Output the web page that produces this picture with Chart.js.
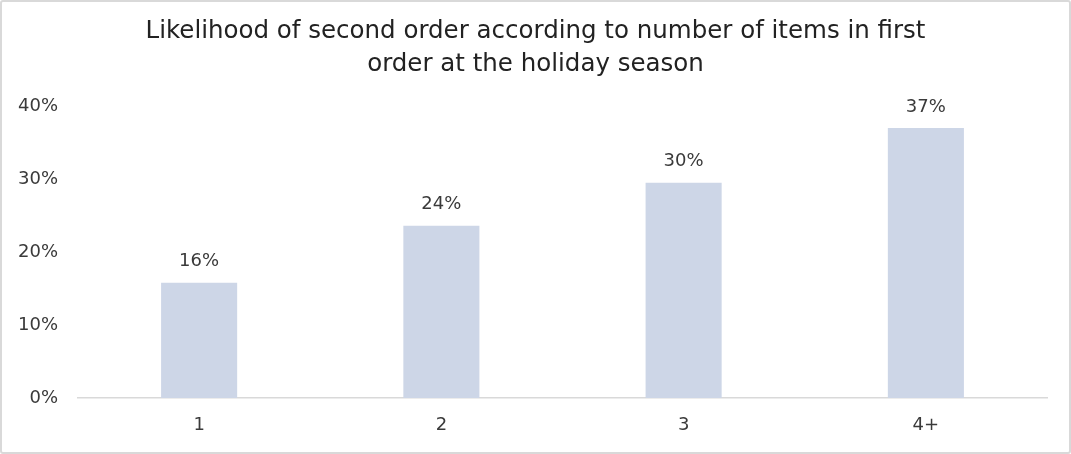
<!DOCTYPE html>
<html>
<head>
<meta charset="utf-8">
<script src="https://cdn.jsdelivr.net/npm/chart.js@4"></script>
<style>
    html, body { margin: 0; padding: 0; background: #fff; }
    #wrap {
        position: absolute; left: 0; top: 0;
        width: 1071px; height: 454px;
        box-sizing: border-box;
        border: 2px solid #d9d9d9;
        border-radius: 3px;
        background: #fff;
    }
    #wrap canvas { display: block; }
</style>
</head>
<body>
<div id="wrap"><canvas id="orderChart" width="1067" height="450"></canvas></div>
<script>
const categories = ['1', '2', '3', '4+'];
const likelihood = [15.8, 23.6, 29.5, 37.0];
const yTicks = [0, 10, 20, 30, 40];
const titleLines = ['Likelihood of second order according to number of items in first', 'order at the holiday season'];

const FONT = "'DejaVu Sans', 'Noto Sans', sans-serif";

// draws the % value above each bar
const valueLabels = {
    id: 'valueLabels',
    afterDatasetsDraw(chart) {
        const ctx = chart.ctx;
        const meta = chart.getDatasetMeta(0);
        ctx.save();
        ctx.font = '18px ' + FONT;
        ctx.fillStyle = '#3a3a3a';
        ctx.textAlign = 'center';
        ctx.textBaseline = 'middle';
        meta.data.forEach((bar, i) => {
            ctx.fillText(Math.round(likelihood[i]) + '%', bar.x, bar.y - 21);
        });
        ctx.restore();
    }
};

// title centred on the whole canvas, not on the padded box
const centredTitle = {
    id: 'centredTitle',
    afterDraw(chart) {
        const ctx = chart.ctx;
        ctx.save();
        ctx.font = '24.5px ' + FONT;
        ctx.fillStyle = '#222222';
        ctx.textAlign = 'center';
        ctx.textBaseline = 'middle';
        titleLines.forEach((line, i) => {
            ctx.fillText(line, chart.width / 2, 30 + i * 33);
        });
        ctx.restore();
    }
};

document.addEventListener('DOMContentLoaded', function () {
    const ctx = document.getElementById('orderChart').getContext('2d');

    new Chart(ctx, {
        type: 'bar',
        data: {
            labels: categories,
            datasets: [{
                data: likelihood,
                backgroundColor: '#cdd6e7',
                borderWidth: 0,
                categoryPercentage: 1,
                barPercentage: 0.314
            }]
        },
        options: {
            responsive: false,
            animation: false,
            layout: { padding: { top: 104, right: 22, bottom: 0, left: 0 } },
            scales: {
                y: {
                    min: 0,
                    max: 40,
                    afterFit: function (scale) { scale.width = 76; },
                    afterBuildTicks: function (scale) {
                        scale.ticks = yTicks.map(v => ({ value: v }));
                    },
                    grid: { display: false, drawTicks: false },
                    border: { display: false },
                    ticks: {
                        padding: 20,
                        color: '#3a3a3a',
                        font: { family: FONT, size: 18 },
                        callback: v => v + '%'
                    }
                },
                x: {
                    afterFit: function (scale) { scale.height = 54; },
                    grid: { display: false, drawTicks: false },
                    border: { color: '#d9d9d9', width: 1.5 },
                    ticks: {
                        padding: 17,
                        color: '#3a3a3a',
                        font: { family: FONT, size: 18 }
                    }
                }
            },
            plugins: {
                legend: { display: false },
                tooltip: { enabled: false },
                title: { display: false }
            }
        },
        plugins: [valueLabels, centredTitle]
    });
});
</script>
</body>
</html>
